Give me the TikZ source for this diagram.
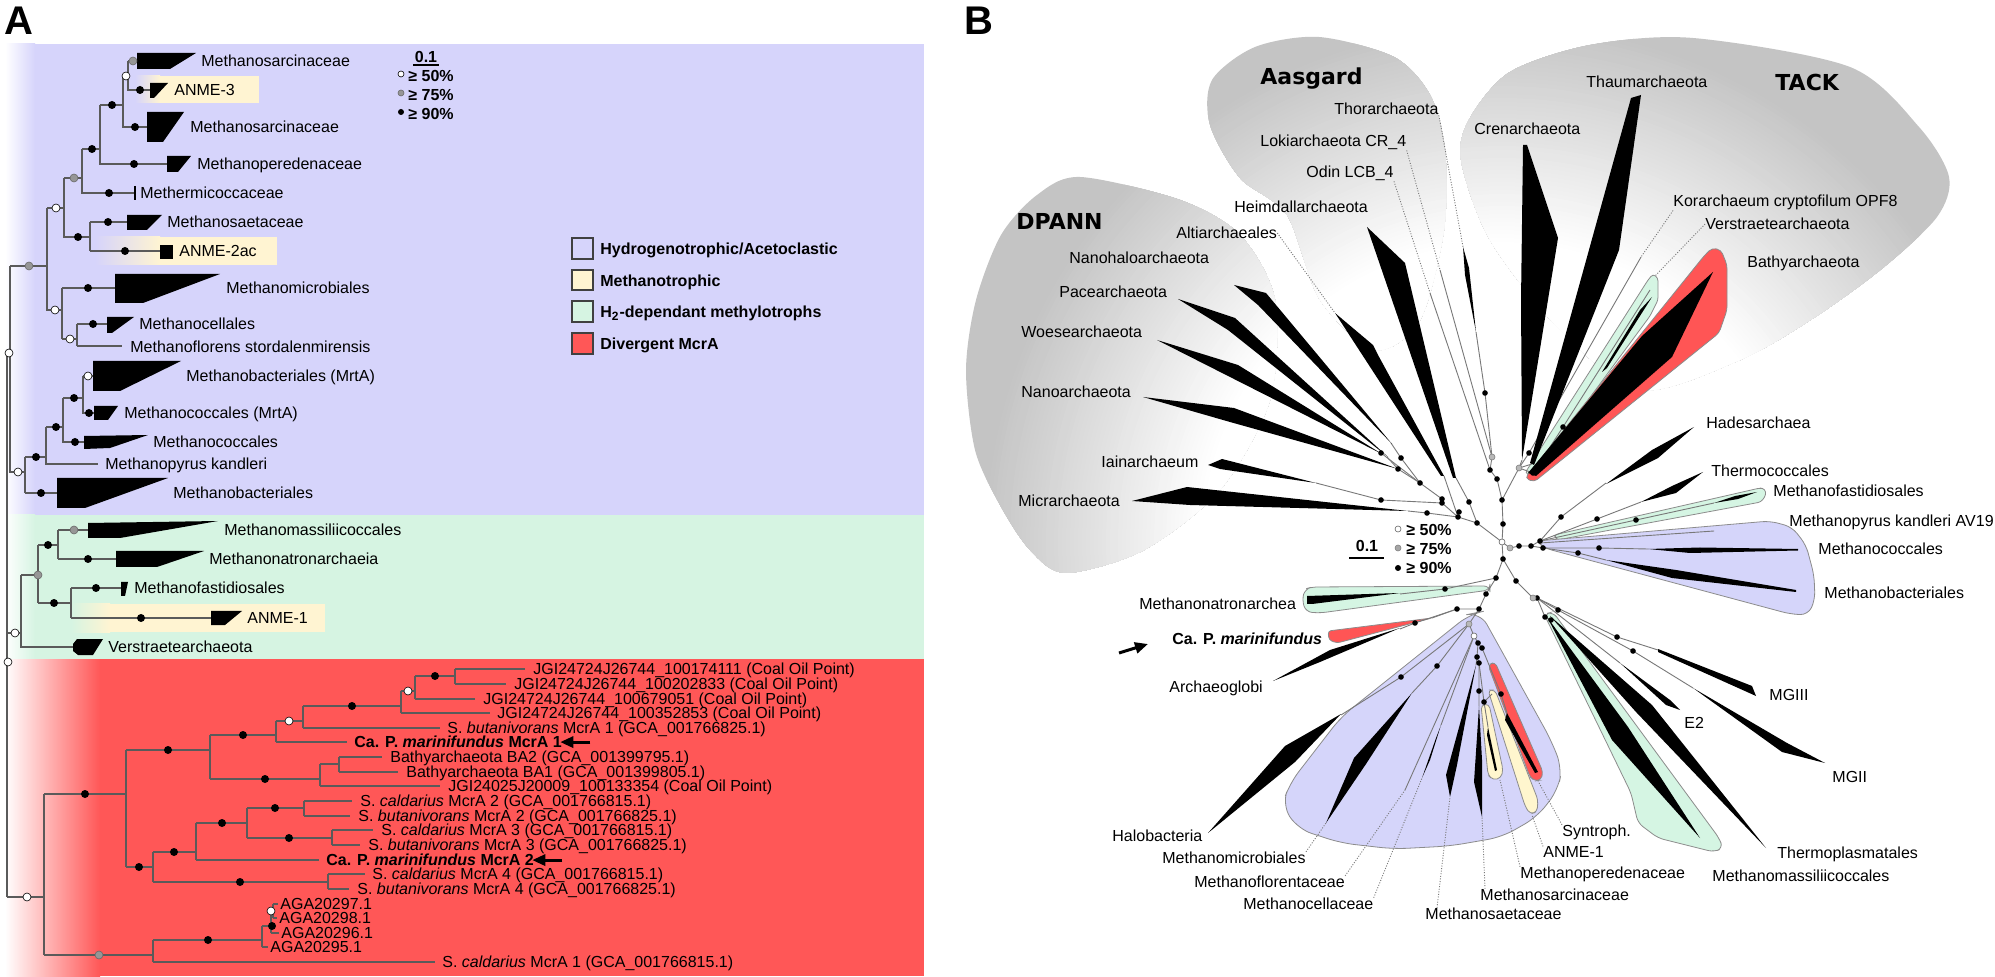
\documentclass[tikz,border=0pt]{standalone}
\usepackage{fontspec}
\setmainfont{Liberation Sans}
\newfontfamily\grpfont{DejaVu Sans}
\usetikzlibrary{arrows.meta}
\definecolor{purpbg}{RGB}{214,212,251}
\definecolor{greenbg}{RGB}{214,244,226}
\definecolor{redbg}{RGB}{255,87,87}
\definecolor{yelbg}{RGB}{255,244,210}
\definecolor{treeline}{RGB}{90,90,90}
\definecolor{nodegray}{RGB}{150,150,150}
\definecolor{bline}{RGB}{120,120,120}
\definecolor{blobgray}{RGB}{196,196,196}
\definecolor{bpurp}{RGB}{213,213,250}
\definecolor{bgreen}{RGB}{213,245,227}
\definecolor{byel}{RGB}{255,246,206}
\definecolor{bred}{RGB}{255,85,85}
\definecolor{outl}{RGB}{140,140,140}
\newcommand\blobfill[1]{%
  \begin{scope}
  \clip plot[smooth cycle] coordinates {#1};
  \fill[blobgray] (900,0) rectangle (1995,977);
  \foreach \i in {0,...,55} {
    \pgfmathsetmacro\rr{520-\i*4}
    \pgfmathtruncatemacro\pp{(\rr-300)/2.2}
    \fill[blobgray!\pp!white] (1502,542) circle[radius=\rr];
  }
  \end{scope}}
\tikzset{
  lab/.style={anchor=base west, inner sep=0pt, font=\fontsize{8}{9.6}\selectfont, yshift=-2.9pt},
  labb/.style={anchor=base west, inner sep=0pt, font=\fontsize{8}{9.6}\selectfont\bfseries, yshift=-2.9pt},
  grp/.style={anchor=base west, inner sep=0pt, font=\grpfont\bfseries\fontsize{11}{13}\selectfont, yshift=-4pt},
  ttl/.style={anchor=base west, inner sep=0pt, font=\bfseries\fontsize{20}{24}\selectfont},
  tl/.style={draw=treeline, line width=0.55pt},
  bl/.style={draw=bline, line width=0.45pt},
  dl/.style={draw=bline, line width=0.45pt, dash pattern=on 0.5pt off 0.8pt},
  arr/.style={line width=1.5pt, -{Triangle[length=6.5pt,width=5.5pt]}},
  cfill/.style={draw=outl, line width=0.4pt},
}
\begin{document}
\begin{tikzpicture}[x=0.5pt,y=-0.5pt]
\useasboundingbox (0,0) rectangle (1995,977);
\fill[white] (0,0) rectangle (1995,977);

% ================= PANEL A =================
\node[ttl] (tA) at (4,35) {A};
\fill[purpbg] (5,44) rectangle (924,515);
\shade[left color=white, right color=purpbg] (5,44) rectangle (35,515);
\fill[greenbg] (5,515) rectangle (924,659);
\shade[left color=white, right color=greenbg] (5,515) rectangle (35,659);
\fill[redbg] (5,659) rectangle (924,976);
\shade[left color=white, right color=redbg] (5,659) rectangle (100,976);
% highlight boxes
\fill[yelbg] (160,76) rectangle (259,103);
\shade[left color=purpbg, right color=yelbg] (135,76) rectangle (160,103);
\fill[yelbg] (160,237) rectangle (277,265);
\shade[left color=purpbg, right color=yelbg] (95,237) rectangle (160,265);
\fill[yelbg] (110,604) rectangle (325,632);
\shade[left color=greenbg, right color=yelbg] (71,604) rectangle (110,632);

% tree lines purple
\draw[tl] (128,61)--(137,61) (128,61)--(128,90)--(150,90);
\draw[tl] (123,76)--(128,76) (123,76)--(123,127)--(147,127);
\draw[tl] (100,105)--(123,105) (100,105)--(100,164)--(167,164);
\draw[tl] (82,149)--(100,149) (82,149)--(82,193)--(135,193);
\draw[tl] (64,178)--(82,178) (64,178)--(64,237)--(90,237);
\draw[tl] (90,222)--(90,251) (90,222)--(127,222) (90,251)--(160,251);
\draw[tl] (47,208)--(64,208) (47,208)--(47,310)--(62,310);
\draw[tl] (62,288)--(62,339) (62,288)--(115,288) (62,339)--(77,339);
\draw[tl] (77,324)--(77,346) (77,324)--(107,324) (77,346)--(122,346);
\draw[tl] (10,266)--(47,266) (10,266)--(10,472)--(25,472);
\draw[tl] (25,457)--(25,493) (25,457)--(46,457) (25,493)--(57,493);
\draw[tl] (46,427)--(46,464)--(98,464) (46,427)--(63,427);
\draw[tl] (63,398)--(63,442)--(84,442) (63,398)--(83,398);
\draw[tl] (83,376)--(83,413)--(94,413) (83,376)--(93,376);
% root
\draw[tl] (7,353)--(7,897) (7,353)--(10,353) (7,633)--(21,633) (7,897)--(44,897);
% green
\draw[tl] (21,575)--(21,647)--(73,647) (21,575)--(38,575) (38,545)--(38,603);
\draw[tl] (38,545)--(58,545) (58,530)--(58,559) (58,530)--(88,530) (58,559)--(116,559);
\draw[tl] (38,603)--(71,603) (71,588)--(71,618) (71,588)--(121,588) (71,618)--(211,618);
% red
\draw[tl] (44,794)--(44,955) (44,794)--(126,794) (126,750)--(126,867);
\draw[tl] (126,750)--(210,750) (210,735)--(210,779);
\draw[tl] (210,735)--(276,735) (276,721)--(276,742);
\draw[tl] (276,721)--(303,721) (303,706)--(303,728);
\draw[tl] (303,706)--(401,706) (401,691)--(401,713);
\draw[tl] (401,691)--(415,691) (415,676)--(415,699);
\draw[tl] (415,676)--(455,676) (455,669)--(455,684);
\draw[tl] (455,669)--(525,669) (455,684)--(506,684) (415,699)--(475,699) (401,713)--(490,713) (303,728)--(440,728) (276,742)--(347,742);
\draw[tl] (210,779)--(320,779) (320,764)--(320,786) (320,764)--(339,764) (339,757)--(339,772) (339,757)--(382,757) (339,772)--(398,772) (320,786)--(440,786);
\draw[tl] (126,867)--(153,867) (153,852)--(153,882);
\draw[tl] (153,852)--(196,852) (196,823)--(196,860);
\draw[tl] (196,823)--(247,823) (247,808)--(247,838);
\draw[tl] (247,808)--(304,808) (304,801)--(304,816) (304,801)--(352,801) (304,816)--(350,816);
\draw[tl] (247,838)--(332,838) (332,830)--(332,845) (332,830)--(373,830) (332,845)--(360,845);
\draw[tl] (196,860)--(319,860);
\draw[tl] (153,882)--(328,882) (328,874)--(328,889) (328,874)--(365,874) (328,889)--(349,889);
\draw[tl] (44,955)--(153,955) (153,940)--(153,962);
\draw[tl] (153,940)--(262,940) (262,926)--(262,947) (262,926)--(271,926) (271,911)--(271,933) (271,911)--(273,911) (273,904)--(273,918);
\draw[tl] (273,904)--(278,904) (273,918)--(277,918) (271,933)--(279,933) (262,947)--(268,947);
\draw[tl] (153,962)--(435,962);

% wedges A
\fill (137,53)--(196,53)--(170,69)--(137,69)--cycle;
\fill (150,83)--(168,83)--(154,98)--(150,98)--cycle;
\fill (147,112)--(184,112)--(163,142)--(147,142)--cycle;
\fill (167,156)--(191,156)--(178,172)--(167,172)--cycle;
\draw[line width=0.7pt] (135,186)--(135,200);
\fill (127,215)--(162,215)--(147,230)--(127,230)--cycle;
\fill (160,245) rectangle (173,259);
\fill (115,274)--(220,274)--(143,303)--(115,303)--cycle;
\fill (107,317)--(134,317)--(112,333)--(107,333)--cycle;
\fill (93,361)--(181,361)--(120,391)--(93,391)--cycle;
\fill (94,406)--(118,406)--(108,420)--(94,420)--cycle;
\fill (84,436)--(148,435)--(110,448)--(84,449)--cycle;
\fill (57,478)--(168,478)--(85,508)--(57,508)--cycle;
\fill (88,523)--(218,521)--(120,538)--(88,538)--cycle;
\fill (116,551)--(204,551)--(157,567)--(116,567)--cycle;
\fill (121,582)--(128,582)--(125,596)--(121,596)--cycle;
\fill (211,611)--(242,611)--(225,625)--(211,625)--cycle;
\fill (73,644)--(77,639)--(103,639)--(93,655)--(78,655)--(73,651)--cycle;

% dots A
\foreach \x/\y in {140/90,112/105,135/127,92/149,134/164,109/193,78/237,108/222,125/251,88/288,93/324,89/413,74/398,56/427,75/442,36/457,41/493,48/545,88/559,54/603,96/588,141/618,85/794,168/750,243/735,352/706,435/676,265/779,139/867,174/852,222/823,275/808,289/838,240/882,208/940,272/926}
  \fill (\x,\y) circle[radius=4];
\foreach \x/\y in {126/76,56/208,55/310,70/339,88/376,9/353,18/472,15/633,8/662,27/897,289/721,408/691,271/911}
  \filldraw[fill=white, draw=black, line width=0.3pt] (\x,\y) circle[radius=4];
\foreach \x/\y in {133/61,74/178,29/266,74/530,38/575,99/955}
  \filldraw[fill=nodegray, draw=nodegray!70!black, line width=0.3pt] (\x,\y) circle[radius=4];

% labels A
\node[lab] (a1) at (201,61) {Methanosarcinaceae};
\node[lab] (a2) at (174,90) {ANME-3};
\node[lab] (a3) at (190,127) {Methanosarcinaceae};
\node[lab] (a4) at (197,164) {Methanoperedenaceae};
\node[lab] (a5) at (140,193) {Methermicoccaceae};
\node[lab] (a6) at (167,222) {Methanosaetaceae};
\node[lab] (a7) at (179,251) {ANME-2ac};
\node[lab] (a8) at (226,288) {Methanomicrobiales};
\node[lab] (a9) at (139,324) {Methanocellales};
\node[lab] (a10) at (130,347) {Methanoflorens stordalenmirensis};
\node[lab] (a11) at (186,376) {Methanobacteriales (MrtA)};
\node[lab] (a12) at (124,413) {Methanococcales (MrtA)};
\node[lab] (a13) at (153,442) {Methanococcales};
\node[lab] (a14) at (105,464) {Methanopyrus kandleri};
\node[lab] (a15) at (173,493) {Methanobacteriales};
\node[lab] (a16) at (224,530) {Methanomassiliicoccales};
\node[lab] (a17) at (209,559) {Methanonatronarchaeia};
\node[lab] (a18) at (134,588) {Methanofastidiosales};
\node[lab] (a19) at (247,618) {ANME-1};
\node[lab] (a20) at (108,647) {Verstraetearchaeota};
\node[lab] (r1) at (533,669) {JGI24724J26744\_100174111 (Coal Oil Point)};
\node[lab] (r2) at (514,684) {JGI24724J26744\_100202833 (Coal Oil Point)};
\node[lab] (r3) at (483,699) {JGI24724J26744\_100679051 (Coal Oil Point)};
\node[lab] (r4) at (497,713) {JGI24724J26744\_100352853 (Coal Oil Point)};
\node[lab] (r5) at (447,728) {S. \textit{butanivorans} McrA 1 (GCA\_001766825.1)};
\node[labb] (mA1) at (354,742) {Ca. P. \textit{marinifundus} McrA 1};
\node[lab] (r7) at (390,757) {Bathyarchaeota BA2 (GCA\_001399795.1)};
\node[lab] (r8) at (406,772) {Bathyarchaeota BA1 (GCA\_001399805.1)};
\node[lab] (r9) at (448,786) {JGI24025J20009\_100133354 (Coal Oil Point)};
\node[lab] (r10) at (360,801) {S. \textit{caldarius} McrA 2 (GCA\_001766815.1)};
\node[lab] (r11) at (358,816) {S. \textit{butanivorans} McrA 2 (GCA\_001766825.1)};
\node[lab] (r12) at (381,830) {S. \textit{caldarius} McrA 3 (GCA\_001766815.1)};
\node[lab] (r13) at (368,845) {S. \textit{butanivorans} McrA 3 (GCA\_001766825.1)};
\node[labb] (mA2) at (326,860) {Ca. P. \textit{marinifundus} McrA 2};
\node[lab] (r15) at (372,874) {S. \textit{caldarius} McrA 4 (GCA\_001766815.1)};
\node[lab] (r16) at (357,889) {S. \textit{butanivorans} McrA 4 (GCA\_001766825.1)};
\node[lab] (r17) at (280,904) {AGA20297.1};
\node[lab] (r18) at (279,918) {AGA20298.1};
\node[lab] (r19) at (281,933) {AGA20296.1};
\node[lab] (r20) at (270,947) {AGA20295.1};
\node[lab] (r21) at (442,962) {S. \textit{caldarius} McrA 1 (GCA\_001766815.1)};
\draw[arr] ([xshift=14pt]mA1.east) -- ([xshift=-1pt]mA1.east);
\draw[arr] ([xshift=14pt]mA2.east) -- ([xshift=-1pt]mA2.east);

% legend A
\node[labb, anchor=base] (sclA) at (426,57) {0.1};
\draw[line width=0.6pt] (413,65)--(439,65);
\filldraw[fill=white, draw=black, line width=0.3pt] (401,74) circle[radius=3];
\filldraw[fill=nodegray, draw=nodegray!70!black, line width=0.3pt] (401,93) circle[radius=3];
\fill (401,112) circle[radius=3];
\node[labb] (lg1) at (408,76) {≥ 50\%};
\node[labb] (lg2) at (408,95) {≥ 75\%};
\node[labb] (lg3) at (408,114) {≥ 90\%};
\filldraw[fill=purpbg, draw=black!75, line width=0.6pt] (572,238) rectangle (593,259);
\filldraw[fill=yelbg, draw=black!75, line width=0.6pt] (572,270) rectangle (593,290);
\filldraw[fill=greenbg, draw=black!75, line width=0.6pt] (572,301) rectangle (593,322);
\filldraw[fill=redbg, draw=black!75, line width=0.6pt] (572,333) rectangle (593,354);
\node[labb] (c1) at (600,249) {Hydrogenotrophic/Acetoclastic};
\node[labb] (c2) at (600,281) {Methanotrophic};
\node[labb] (c3) at (600,312) {H\textsubscript{2}-dependant methylotrophs};
\node[labb] (c4) at (600,344) {Divergent McrA};

% ================= PANEL B =================
\node[ttl] (tB) at (964,35) {B};
% gray blobs
\blobfill{(1080,177) (1180,200) (1240,235) (1275,300) (1270,400) (1220,490) (1144,550) (1066,573) (1030,550) (1000,505) (975,450) (966,370) (976,300) (1001,235) (1037,195)}
\blobfill{(1319,37) (1394,57) (1430,95) (1445,150) (1444,230) (1420,320) (1375,350) (1320,300) (1287,215) (1240,178) (1210,125) (1212,80) (1255,47)}
\blobfill{(1693,38) (1850,67) (1919,127) (1949,177) (1937,217) (1884,267) (1815,317) (1740,360) (1640,390) (1560,330) (1490,240) (1461,160) (1470,118) (1510,72) (1590,45)}

% coloured clade areas
\filldraw[cfill, fill=bgreen, rounded corners=1.5pt] (1525,473)--(1648,280)--(1653,274)--(1658,278)--(1658,300)--(1650,316)--(1532,476)--cycle;
\filldraw[cfill, fill=bred, rounded corners=2pt] (1525,478)--(1704,256)--(1712,248)--(1721,250)--(1727,265)--(1727,310)--(1719,333)--(1534,482)--cycle;
\filldraw[cfill, fill=bgreen, rounded corners=1.5pt] (1554,535)--(1760,488)--(1765,489)--(1766,495)--(1761,502)--(1557,540)--cycle;
\filldraw[cfill, fill=bpurp, rounded corners=4pt] (1537,541)--(1770,521)--(1792,527)--(1806,545)--(1814,575)--(1815,600)--(1808,615)--(1790,614)--(1544,548)--cycle;
\filldraw[cfill, fill=bgreen, rounded corners=3pt] (1544,614)--(1631,793)--(1638,823)--(1658,838)--(1714,852)--(1723,848)--(1719,838)--(1553,612)--cycle;
\filldraw[cfill, fill=bgreen, rounded corners=3pt] (1490,586)--(1490,590)--(1320,613)--(1306,612)--(1302,600)--(1305,589)--(1312,587)--cycle;
\filldraw[cfill, fill=bred, rounded corners=1.5pt] (1328,631)--(1432,618)--(1337,643)--(1329,640)--cycle;
\filldraw[cfill, fill=bpurp, rounded corners=7pt] (1470,614)--(1341,717)--(1290,783)--(1282,805)--(1298,829)--(1341,843)--(1394,849)--(1450,846)--(1502,837)--(1537,817)--(1558,790)--(1562,768)--(1551,740)--(1480,612)--cycle;
\filldraw[cfill, fill=byel, rounded corners=2pt] (1481,705)--(1489,704)--(1503,770)--(1501,778)--(1493,780)--(1488,775)--cycle;
\filldraw[cfill, fill=byel, rounded corners=2pt] (1488,690)--(1495,690)--(1538,800)--(1537,812)--(1530,814)--(1525,806)--cycle;
\filldraw[cfill, fill=bred, rounded corners=2pt] (1488,665)--(1495,662)--(1543,772)--(1541,780)--(1535,781)--(1530,777)--cycle;

% branch lines
\draw[bl] (1502,542)--(1503,524)--(1502,500)--(1497,479)--(1490,470)--(1492,457);
\draw[bl] (1502,500)--(1519,468);
\draw[bl] (1502,542)--(1510,548)--(1519,546)--(1531,546)--(1540,541);
\draw[bl] (1531,546)--(1543,548);
\draw[bl] (1502,542)--(1477,523)--(1458,517);
\draw[bl] (1477,523)--(1469,502);
\draw[bl] (1502,542)--(1503,559)--(1496,578)--(1486,594)--(1479,609)--(1469,624);
\draw[bl] (1503,559)--(1516,581)--(1533,598)--(1537,598);
\draw[bl] (1496,578)--(1445,589)--(1400,594);
\draw[bl] (1479,609)--(1457,609)--(1415,623)--(1400,629);
\draw[bl] (1457,609)--(1432,618);
\draw[bl] (1458,517)--(1427,513)--(1408,511);
\draw[bl] (1458,517)--(1442,503)--(1381,500)--(1316,483);
\draw[bl] (1442,503)--(1442,499)--(1420,483);
\draw[bl] (1420,483)--(1398,469);
\draw[bl] (1420,483)--(1401,458)--(1391,443);
\draw[bl] (1420,483)--(1381,453);
\draw[bl] (1398,469)--(1387,457);
\draw[bl] (1458,517)--(1444,476);
\draw[bl] (1469,502)--(1456,478);
\draw[bl] (1492,457)--(1485,393)--(1476,332);
\draw[bl] (1440,270)--(1492,457);
\draw[bl] (1430,293)--(1490,470);
\draw[bl] (1522,460)--(1519,468)--(1532,464);
\draw[bl] (1641,257)--(1529,453)--(1519,468);
\draw[bl] (1519,468)--(1533,473);
\draw[bl] (1650,290)--(1563,427)--(1533,473);
\draw[bl] (1540,541)--(1561,517)--(1606,483);
\draw[bl] (1540,541)--(1597,519)--(1641,502);
\draw[bl] (1540,541)--(1636,520)--(1714,503);
\draw[bl] (1543,548)--(1578,553)--(1606,560);
\draw[bl] (1543,548)--(1599,548)--(1648,549);
\draw[bl] (1540,543)--(1714,531);
\draw[bl] (1537,598)--(1617,637)--(1658,650);
\draw[bl] (1537,598)--(1620,663);
\draw[bl] (1537,598)--(1558,610)--(1633,651)--(1693,688);
\draw[bl] (1537,598)--(1545,617)--(1551,620);
\draw[bl] (1469,624)--(1474,636);
\draw[bl] (1469,624)--(1401,677)--(1341,715);
\draw[bl] (1469,624)--(1437,666)--(1412,693);
\draw[bl] (1474,636)--(1405,790);
\draw[bl] (1474,636)--(1441,725);
\draw[bl] (1474,636)--(1478,643)--(1477,657)--(1476,665);
\draw[bl] (1477,657)--(1479,663)--(1479,691)--(1479,706);
\draw[bl] (1478,643)--(1482,648)--(1501,694)--(1507,713);
\draw[bl] (1479,663)--(1484,702)--(1488,727);
\draw[bl] (1484,702)--(1492,694);

% black collapsed clades B
\fill (1463,247)--(1469,268)--(1476,332)--(1465,275)--cycle;
\fill (1367,227)--(1405,263)--(1456,478)--(1453,478)--cycle;
\fill (1335,313)--(1373,345)--(1378,355)--(1444,476)--(1441,476)--cycle;
\fill (1234,285)--(1266,293)--(1392,444)--(1258,305)--cycle;
\fill (1178,299)--(1235,318)--(1388,457)--(1228,330)--cycle;
\fill (1157,340)--(1238,365)--(1382,454)--(1232,378)--cycle;
\fill (1143,397)--(1234,408)--(1398,469)--(1230,422)--cycle;
\fill (1208,465)--(1222,459)--(1316,483)--(1220,469)--cycle;
\fill (1132,501)--(1187,487)--(1408,511)--(1190,505)--cycle;
\fill (1523,145)--(1527,145)--(1558,238)--(1522,460)--(1521,300)--cycle;
\fill (1631,98)--(1641,95)--(1619,250)--(1534,465)--(1530,463)--cycle;
\fill (1713,272)--(1672,357)--(1536,476)--(1528,473)--(1642,336)--cycle;
\fill (1652,297)--(1607,368)--(1602,372)--(1640,310)--cycle;
\fill (1606,484)--(1652,450)--(1694,427)--(1658,458)--cycle;
\fill (1641,502)--(1672,486)--(1703,472)--(1676,493)--cycle;
\fill (1714,503)--(1735,496)--(1757,492)--(1738,499)--cycle;
\fill (1648,549)--(1700,547.5)--(1798,549)--(1798,550.5)--(1690,553)--cycle;
\fill (1606,560)--(1676,570)--(1796,590)--(1796,592)--(1672,578)--cycle;
\fill (1658,649)--(1752,686)--(1756,696)--(1658,652)--cycle;
\fill (1620,663)--(1670,700)--(1680,710)--(1666,705)--cycle;
\fill (1693,688)--(1787,743)--(1825,763)--(1782,752)--cycle;
\fill (1547,617)--(1628,727)--(1700,838)--(1612,740)--cycle;
\fill (1550,616)--(1652,705)--(1766,848)--(1636,712)--cycle;
\fill (1307,596)--(1400,593)--(1312,604)--(1307,604)--cycle;
\fill (1273,681)--(1330,650)--(1400,628)--(1320,662)--cycle;
\fill (1341,714)--(1285,746)--(1208,833)--(1295,762)--cycle;
\fill (1412,693)--(1366,764)--(1326,823)--(1354,758)--cycle;
\fill (1441,725)--(1430,760)--(1422,778)--(1436,738)--cycle;
\fill (1476,665)--(1457,765)--(1450,797)--(1446,775)--cycle;
\fill (1479,706)--(1482,760)--(1482,817)--(1474,782)--cycle;
\fill (1488,727)--(1497,770)--(1495,771)--(1487,735)--cycle;
\fill (1507,713)--(1538,772)--(1535,773)--(1505,720)--cycle;

% dots B
\foreach \x/\y in {1485/393,1529/453,1533/473,1563/427,1490/470,1497/479,1502/500,1503/524,1381/453,1401/458,1398/469,1420/483,1442/499,1442/503,1381/500,1427/513,1458/517,1459/512,1469/502,1477/523,1519/546,1531/546,1540/541,1543/548,1561/517,1597/519,1636/520,1578/553,1599/548,1503/559,1496/578,1516/581,1486/594,1479/609,1457/609,1445/589,1415/623,1537/598,1558/610,1545/617,1551/620,1617/637,1633/651,1478/643,1482/648,1477/657,1479/663,1479/691,1484/702,1501/694,1437/666,1401/677}
  \fill (\x,\y) circle[radius=2.8];
\foreach \x/\y in {1492/457,1519/468,1510/548,1533/598,1469/624}
  \filldraw[fill=black!28, draw=black!50, line width=0.3pt] (\x,\y) circle[radius=3];
\foreach \x/\y in {1502/542,1474/636}
  \filldraw[fill=white, draw=black!60, line width=0.3pt] (\x,\y) circle[radius=3];

% labels B
\node[grp] (gA) at (1260,77) {Aasgard};
\node[grp] (gD) at (1016,222) {DPANN};
\node[grp] (gT) at (1775,83) {TACK};
\node[lab] (thor) at (1334,109) {Thorarchaeota};
\node[lab] (loki) at (1260,141) {Lokiarchaeota CR\_4};
\node[lab] (odin) at (1306,172) {Odin LCB\_4};
\node[lab] (heim) at (1234,207) {Heimdallarchaeota};
\node[lab] (alti) at (1176,233) {Altiarchaeales};
\node[lab] (nhalo) at (1069,258) {Nanohaloarchaeota};
\node[lab] (pace) at (1059,292) {Pacearchaeota};
\node[lab] (woes) at (1021,332) {Woesearchaeota};
\node[lab] (nano) at (1021,392) {Nanoarchaeota};
\node[lab] (iain) at (1101,462) {Iainarchaeum};
\node[lab] (micr) at (1018,501) {Micrarchaeota};
\node[lab] (mnat) at (1139,604) {Methanonatronarchea};
\node[labb] (capm) at (1172,639) {Ca. P. \textit{marinifundus}};
\node[lab] (arch) at (1169,687) {Archaeoglobi};
\node[lab] (halo) at (1112,836) {Halobacteria};
\node[lab] (mmicro) at (1162,858) {Methanomicrobiales};
\node[lab] (mflor) at (1194,882) {Methanoflorentaceae};
\node[lab] (mcell) at (1243,904) {Methanocellaceae};
\node[lab] (msaeta) at (1425,914) {Methanosaetaceae};
\node[lab] (msarc) at (1480,895) {Methanosarcinaceae};
\node[lab] (mpered) at (1520,873) {Methanoperedenaceae};
\node[lab] (anme1) at (1543,852) {ANME-1};
\node[lab] (synt) at (1562,831) {Syntroph.};
\node[lab] (mmass) at (1712,876) {Methanomassiliicoccales};
\node[lab] (tplas) at (1777,853) {Thermoplasmatales};
\node[lab] (mg2) at (1832,777) {MGII};
\node[lab] (e2) at (1684,723) {E2};
\node[lab] (mg3) at (1769,695) {MGIII};
\node[lab] (mbact) at (1824,593) {Methanobacteriales};
\node[lab] (mcocc) at (1818,549) {Methanococcales};
\node[lab] (mpyr) at (1789,521) {Methanopyrus kandleri AV19};
\node[lab] (mfast) at (1773,491) {Methanofastidiosales};
\node[lab] (tcoc) at (1711,471) {Thermococcales};
\node[lab] (hades) at (1706,423) {Hadesarchaea};
\node[lab] (bathy) at (1747,262) {Bathyarchaeota};
\node[lab] (verB) at (1705,224) {Verstraetearchaeota};
\node[lab] (kor) at (1673,201) {Korarchaeum cryptofilum OPF8};
\node[lab] (cren) at (1474,129) {Crenarchaeota};
\node[lab] (thaum) at (1586,82) {Thaumarchaeota};

% leader lines
\draw[dl] (thor.south east)--(1463,247);
\draw[dl] (loki.south east)--(1440,270);
\draw[dl] (odin.south east)--(1430,293);
\draw[dl] (alti.east)--(1335,313);
\draw[dl] (kor.south west)--(1641,257);
\draw[dl] (verB.west)--(1655,276);
\draw[dl] (mmicro.north east)--(1326,823);
\draw[dl] (mflor.north east)--(1405,790);
\draw[dl] (mcell.north east)--(1422,778);
\draw[dl] ([xshift=6pt]msaeta.north west)--(1450,797);
\draw[dl] ([xshift=2.5pt]msarc.north west)--(1482,817);
\draw[dl] (mpered.north west)--(1500,780);
\draw[dl] (anme1.north west)--(1532,815);
\draw[dl] (synt.north west)--(1538,781);

% legend B
\node[labb, anchor=base] (sclB) at (1367,546) {0.1};
\draw[line width=0.6pt] (1349,558)--(1384,558);
\filldraw[fill=white, draw=black!60, line width=0.3pt] (1398,529) circle[radius=3];
\filldraw[fill=black!35, draw=black!50, line width=0.3pt] (1398,548) circle[radius=3];
\fill (1398,568) circle[radius=3];
\node[labb] (lb1) at (1406,530) {≥ 50\%};
\node[labb] (lb2) at (1406,549) {≥ 75\%};
\node[labb] (lb3) at (1406,568) {≥ 90\%};
\coordinate (barS) at (1119,653);
\coordinate (barE) at (1148,644);
\draw[arr] (barS) -- (barE);
\end{tikzpicture}
\end{document}
